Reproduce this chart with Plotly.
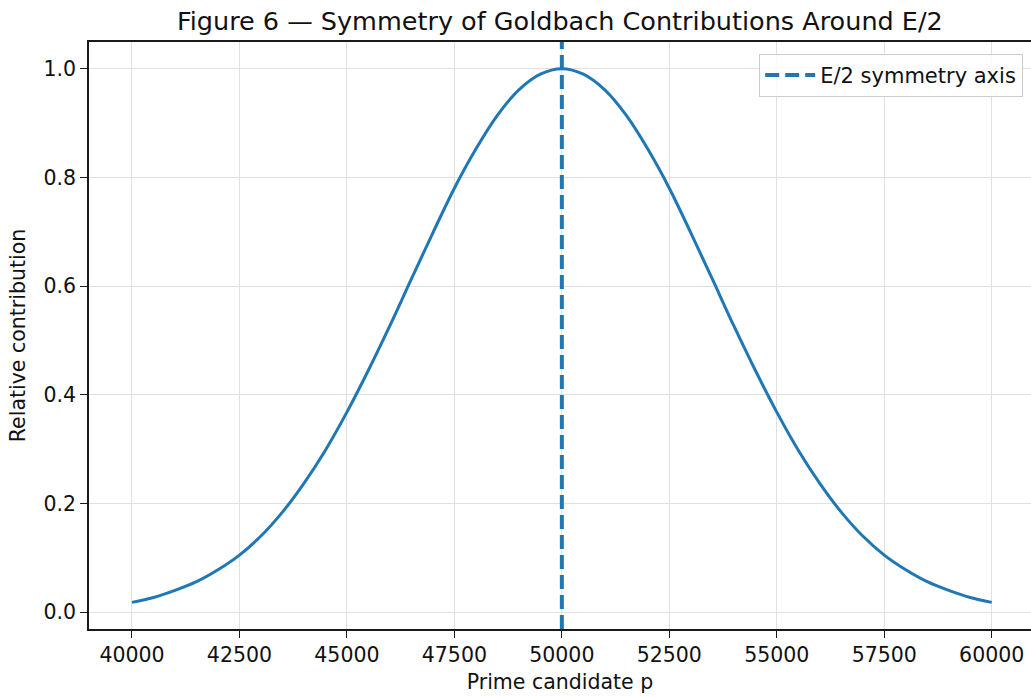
import plotly.graph_objects as go

# Data
p_values = [40000, 40500, 41000, 41500, 42000, 42500, 43000, 43500, 44000, 44500,
            45000, 45500, 46000, 46500, 47000, 47500, 48000, 48500, 49000, 49500,
            50000, 50500, 51000, 51500, 52000, 52500, 53000, 53500, 54000, 54500,
            55000, 55500, 56000, 56500, 57000, 57500, 58000, 58500, 59000, 59500, 60000]
contribution = [0.018, 0.027, 0.040, 0.056, 0.078, 0.105, 0.140, 0.184, 0.237, 0.298,
                0.368, 0.445, 0.527, 0.613, 0.698, 0.780, 0.852, 0.914, 0.961, 0.990,
                1.000, 0.990, 0.961, 0.914, 0.852, 0.780, 0.698, 0.613, 0.527, 0.445,
                0.368, 0.298, 0.237, 0.184, 0.140, 0.105, 0.078, 0.056, 0.040, 0.027, 0.018]
E_half = 50000
x_ticks = [40000, 42500, 45000, 47500, 50000, 52500, 55000, 57500, 60000]
y_ticks = [0.0, 0.2, 0.4, 0.6, 0.8, 1.0]
x_range = [39000, 60914]
y_range = [-0.031, 1.049]

blue = "#1f77b4"
font = "DejaVu Sans"

fig = go.Figure()
fig.add_trace(go.Scatter(x=p_values, y=contribution, mode="lines",
                         line=dict(color=blue, width=3, shape="spline"),
                         showlegend=False))
fig.add_trace(go.Scatter(x=[E_half, E_half], y=y_range, mode="lines",
                         name="E/2 symmetry axis",
                         line=dict(color=blue, width=4, dash="14px,6px")))

axis_common = dict(showline=True, linecolor="#1a1a1a", linewidth=1.6,
                   ticks="outside", ticklen=7, tickwidth=1.4, tickcolor="#1a1a1a",
                   showgrid=True, gridcolor="#e0e0e0", gridwidth=1.2, zeroline=False,
                   tickfont=dict(family=font, size=20.5, color="#111111"))

fig.update_layout(
    width=1031, height=698,
    margin=dict(l=89, r=0, t=42, b=69),
    plot_bgcolor="white", paper_bgcolor="white",
    font=dict(family=font, size=20, color="#111111"),
    title=dict(text="Figure 6 — Symmetry of Goldbach Contributions Around E/2",
               x=0.543, xanchor="center", y=0.97, yanchor="middle",
               font=dict(family=font, size=25.5, color="#111111")),
    xaxis=dict(range=x_range, tickvals=x_ticks, ticktext=[str(v) for v in x_ticks],
               mirror=True,
               title=dict(text="Prime candidate p", standoff=8,
                          font=dict(family=font, size=20.5)), **axis_common),
    yaxis=dict(range=y_range, tickvals=y_ticks, ticktext=[f"{v:.1f}" for v in y_ticks],
               mirror=False,
               title=dict(text="Relative contribution", standoff=12,
                          font=dict(family=font, size=20.5)), **axis_common),
    legend=dict(x=0.9915, xanchor="right", y=0.98, yanchor="top", itemwidth=50,
                bgcolor="rgba(255,255,255,0.85)", bordercolor="#cccccc", borderwidth=1.2,
                font=dict(family=font, size=21, color="#111111")),
)

fig.write_html("out.html")
